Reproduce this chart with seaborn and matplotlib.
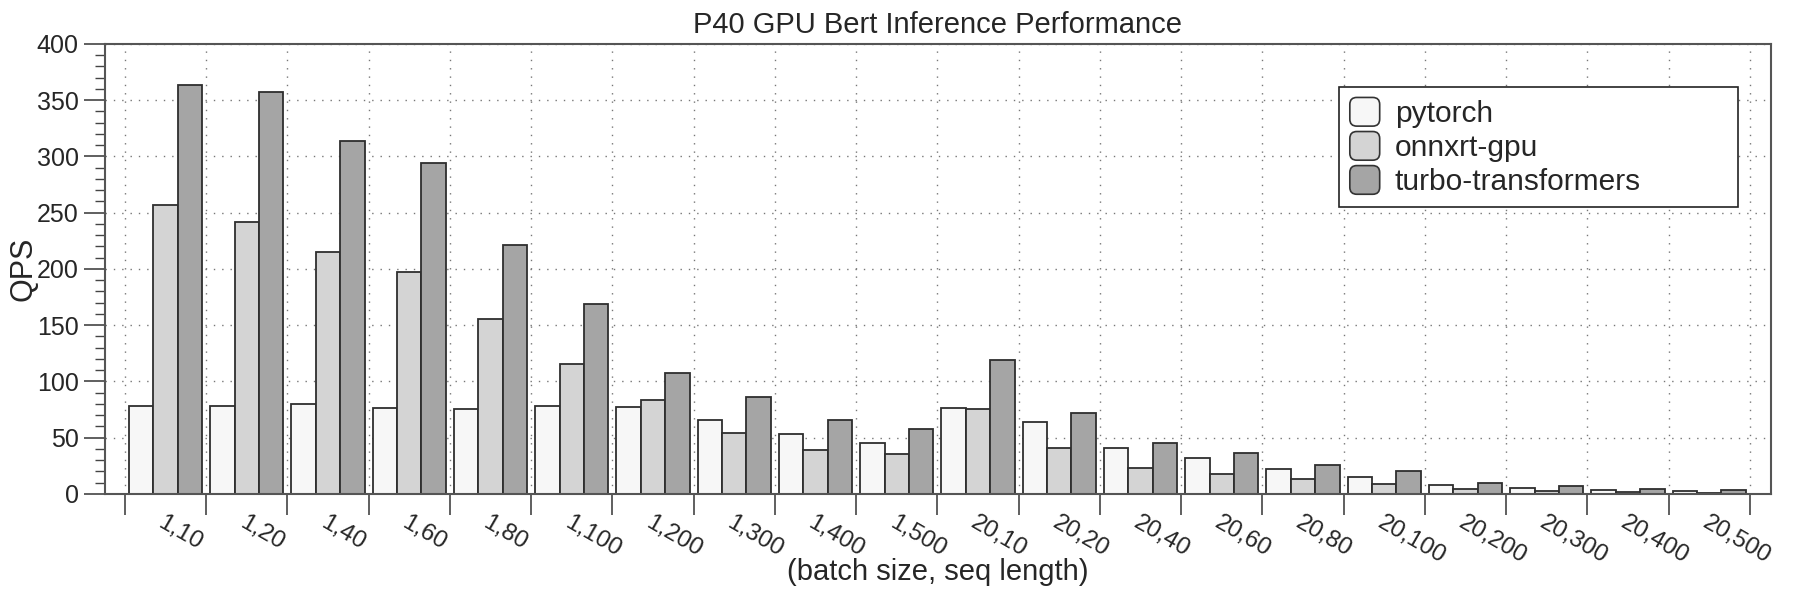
import numpy as np
import pandas as pd
import matplotlib
matplotlib.use("Agg")
import matplotlib.pyplot as plt
import seaborn as sns
from matplotlib.patches import Patch, FancyBboxPatch
from matplotlib.legend_handler import HandlerPatch
from matplotlib.ticker import MultipleLocator

# ---------------- data ----------------
categories = ["1,10", "1,20", "1,40", "1,60", "1,80", "1,100", "1,200", "1,300",
              "1,400", "1,500", "20,10", "20,20", "20,40", "20,60", "20,80",
              "20,100", "20,200", "20,300", "20,400", "20,500"]
frameworks = ["pytorch", "onnxrt-gpu", "turbo-transformers"]
pytorch_qps = [78, 78, 80, 76, 75, 78, 77, 66, 53, 45,
               76, 64, 41, 32, 22, 15, 8, 5, 3.5, 2.5]
onnxrt_qps = [257, 242, 215, 197, 155, 115, 83, 54, 39, 35,
              75, 41, 23, 18, 13, 9, 4, 2.5, 1.5, 1]
turbo_qps = [363, 357, 314, 294, 221, 169, 107, 86, 66, 58,
             119, 72, 45, 36, 26, 20, 10, 6.5, 4.5, 3.5]
bar_colors = ["#f7f7f7", "#d4d4d4", "#a5a5a5"]

df = pd.DataFrame({
    "config": categories * 3,
    "framework": [frameworks[0]] * len(categories) + [frameworks[1]] * len(categories)
                 + [frameworks[2]] * len(categories),
    "qps": pytorch_qps + onnxrt_qps + turbo_qps,
})

# ---------------- style ----------------
sns.set_theme(style="white")
plt.rcParams["font.family"] = ["Liberation Sans", "DejaVu Sans"]

fig = plt.figure(figsize=(18, 6), dpi=100)
ax = fig.add_axes([0.0583, 0.177, 0.9255, 0.75])

sns.barplot(data=df, x="config", y="qps", hue="framework", order=categories,
            hue_order=frameworks, palette=bar_colors, saturation=1, width=0.9,
            edgecolor="#2e2e2e", linewidth=1.3, errorbar=None, legend=False, ax=ax)

n = len(categories)
ax.set_xlim(-0.746, n - 1 + 0.758)
ax.set_ylim(0, 400)

# x ticks: marks at group boundaries, labels at group centres
ax.set_xticks(np.arange(-0.5, n, 1.0))
ax.set_xticklabels([])
ax.set_xticks(np.arange(n), labels=categories, minor=True)
ax.tick_params(axis="x", which="major", direction="out", length=15, width=1.2,
               color="#444444", bottom=True)
ax.tick_params(axis="x", which="minor", length=0, pad=13, labelsize=17.5, bottom=True)
for lbl in ax.get_xticklabels(minor=True):
    lbl.set_rotation(-30)
    lbl.set_ha("left")
    lbl.set_va("top")
    lbl.set_rotation_mode("anchor")

# y ticks
ax.yaxis.set_major_locator(MultipleLocator(50))
ax.yaxis.set_minor_locator(MultipleLocator(10))
ax.tick_params(axis="y", which="major", direction="out", length=15, width=1.2,
               color="#444444", labelsize=18, pad=4, left=True)
ax.tick_params(axis="y", which="minor", direction="out", length=7, width=1.0,
               color="#444444", left=True)

# grid
ax.grid(True, which="major", axis="both", linestyle=(0, (1, 5)),
        color="#777777", linewidth=1.0)
ax.set_axisbelow(True)

for sp in ax.spines.values():
    sp.set_visible(True)
    sp.set_color("#555555")
    sp.set_linewidth(1.5)

ax.set_title("P40 GPU Bert Inference Performance", fontsize=21, pad=8)
ax.set_xlabel("(batch size, seq length)", fontsize=21)
ax.xaxis.set_label_coords(0.5, -0.142)
ax.set_ylabel("QPS", fontsize=22)
ax.yaxis.set_label_coords(-0.040, 0.5)


class RoundHandler(HandlerPatch):
    def create_artists(self, legend, orig_handle, xdescent, ydescent, width,
                       height, fontsize, trans):
        p = FancyBboxPatch((-xdescent, -ydescent), width, height,
                           boxstyle="round,pad=0,rounding_size=5",
                           facecolor=orig_handle.get_facecolor(),
                           edgecolor="#333333", linewidth=1.2, transform=trans)
        return [p]


handles = [Patch(facecolor=c, edgecolor="#333333") for c in bar_colors]
leg = ax.legend(handles, frameworks, handler_map={Patch: RoundHandler()},
                loc="upper left", bbox_to_anchor=(0.741, 0.649, 0.239, 0.255),
                mode="expand", fontsize=21.5, handlelength=1.0, handleheight=1.1,
                handletextpad=0.5, labelspacing=0.12, borderpad=0.35,
                borderaxespad=0, fancybox=False, framealpha=1, frameon=True)
leg.get_frame().set_edgecolor("#222222")
leg.get_frame().set_linewidth(1.2)

fig.savefig("out.png", dpi=100)
